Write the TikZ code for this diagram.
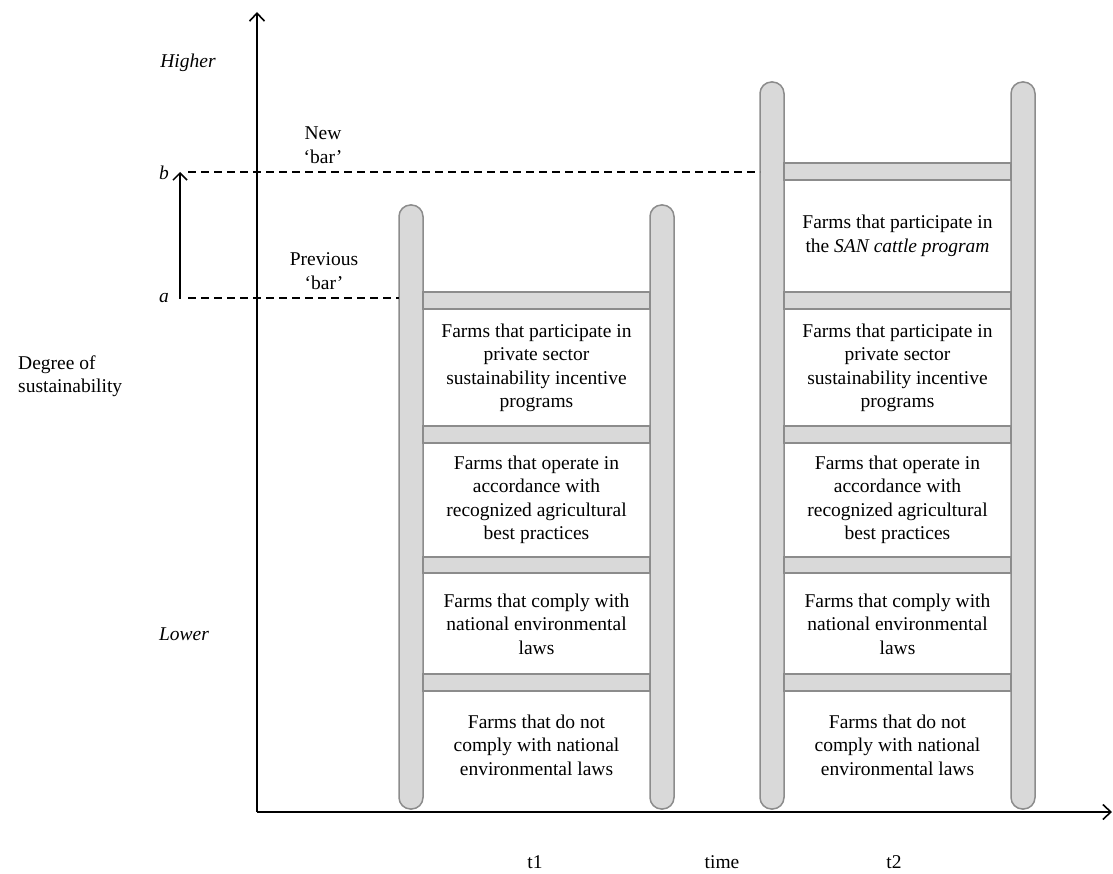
\documentclass[tikz,border=0pt]{standalone}
\usepackage{fontspec}
\setmainfont{Liberation Serif}
\usetikzlibrary{arrows.meta}
\definecolor{railfill}{HTML}{D9D9D9}
\definecolor{railedge}{HTML}{8C8C8C}
\begin{document}
\begin{tikzpicture}[x=1pt,y=-1pt,
  txt/.style={font=\fontsize{19.5}{23.5}\selectfont, align=center, inner sep=0pt},
  itxt/.style={txt, font=\fontsize{19.5}{23.5}\selectfont\itshape},
  rail/.style={fill=railfill, draw=railedge, line width=1.5pt, rounded corners=11.5pt},
  rung/.style={fill=railfill, draw=railedge, line width=1.5pt},
  axisline/.style={line width=1.8pt, -{Straight Barb[length=8pt,width=15pt,line width=1.6pt]}},
  bardash/.style={line width=1.4pt, dash pattern=on 8pt off 5pt},
]
\useasboundingbox (0,0) rectangle (1113,874);

% axes
\coordinate (O) at (257,812);
\coordinate (Ytop) at (257,12);
\coordinate (Xend) at (1112,812);
\draw[axisline] (O) -- (Ytop);
\draw[axisline] (O) -- (Xend);

% ladder 1
\draw[rail] (399,205) rectangle (423,809);
\draw[rail] (650,205) rectangle (674,809);
\foreach \ya/\yb in {292/309, 426/443, 557/573, 674/691}
  \draw[rung] (423,\ya) rectangle (650,\yb);

% ladder 2
\draw[rail] (760,82) rectangle (784,809);
\draw[rail] (1011,82) rectangle (1035,809);
\foreach \ya/\yb in {163/180, 292/309, 426/443, 557/573, 674/691}
  \draw[rung] (784,\ya) rectangle (1011,\yb);

% bars
\coordinate (bstart) at (188,172);
\coordinate (bend) at (760,172);
\coordinate (astart) at (188,298);
\coordinate (aend) at (399,298);
\draw[bardash] (bstart) -- (bend);
\draw[bardash] (astart) -- (aend);
\coordinate (arrA) at (180,299);
\coordinate (arrB) at (180,172);
\draw[line width=1.6pt, -{Straight Barb[length=7pt,width=14pt,line width=1.5pt]}] (arrA) -- (arrB);

% axis labels
\node[itxt] (higher) at (188,63) {Higher};
\node[itxt] (lower) at (184,634) {Lower};
\node[itxt] (blab) at (164,173) {b};
\node[itxt] (alab) at (164,298) {a};
\node[txt, align=left, anchor=west] (degree) at (18,376) {Degree of\\sustainability};
\node[txt] (newbar) at (323,145) {New\\‘bar’};
\node[txt] (prevbar) at (324,271) {Previous\\‘bar’};
\node[txt] (t1) at (535,862) {t1};
\node[txt] (time) at (722,862) {time};
\node[txt] (t2) at (894,862) {t2};

% ladder 1 texts
\node[txt] (p1) at (536.5,368) {Farms that participate in\\private sector\\sustainability incentive\\programs};
\node[txt] (o1) at (536.5,500) {Farms that operate in\\accordance with\\recognized agricultural\\best practices};
\node[txt] (c1) at (536.5,624) {Farms that comply with\\national environmental\\laws};
\node[txt] (n1) at (536.5,745) {Farms that do not\\comply with national\\environmental laws};

% ladder 2 texts
\node[txt] (s2) at (897.5,236) {Farms that participate in\\the \textit{SAN cattle program}};
\node[txt] (p2) at (897.5,368) {Farms that participate in\\private sector\\sustainability incentive\\programs};
\node[txt] (o2) at (897.5,500) {Farms that operate in\\accordance with\\recognized agricultural\\best practices};
\node[txt] (c2) at (897.5,624) {Farms that comply with\\national environmental\\laws};
\node[txt] (n2) at (897.5,745) {Farms that do not\\comply with national\\environmental laws};
\end{tikzpicture}
\end{document}
